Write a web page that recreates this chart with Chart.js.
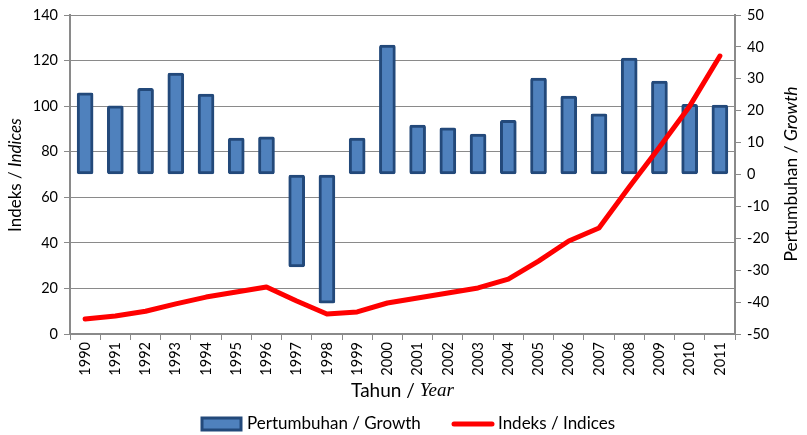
<!DOCTYPE html>
<html><head><meta charset="utf-8">
<script src="https://cdn.jsdelivr.net/npm/chart.js@4"></script>
<style>html,body{margin:0;padding:0;background:#fff;}#wrap{width:807px;height:435px;}</style>
</head><body><div id="wrap"><canvas id="c" width="807" height="435"></canvas></div>
<script>
const years = ['1990','1991','1992','1993','1994','1995','1996','1997','1998','1999','2000','2001','2002','2003','2004','2005','2006','2007','2008','2009','2010','2011'];
const growth = [25.6, 21.5, 27.0, 31.8, 25.2, 11.4, 11.8, -29.0, -40.3, 11.4, 40.6, 15.5, 14.6, 12.7, 17.0, 30.2, 24.6, 19.0, 36.5, 29.3, 22.0, 21.8];
const indices = [6.6, 7.9, 10.0, 13.2, 16.2, 18.4, 20.6, 14.5, 8.8, 9.7, 13.6, 15.8, 18.0, 20.2, 24.1, 32.0, 40.8, 46.5, 64.5, 82.0, 100.0, 122.0];
const leftAxis = {min: 0, max: 140, step: 20};
const rightAxis = {min: -50, max: 50, step: 10};
const growthLabel = 'Pertumbuhan / Growth';
const indexLabel = 'Indeks / Indices';

const FONT = 'Lato, "Open Sans", sans-serif';
const BAR_FILL = '#4F81BD';
const BAR_EDGE = '#23497A';
const GRID = '#8A8A8A';

function drawMixed(ctx, parts, cx, cy, rot) {
  ctx.save();
  ctx.translate(cx, cy);
  if (rot) ctx.rotate(rot);
  ctx.textBaseline = 'middle';
  ctx.textAlign = 'left';
  let total = 0;
  parts.forEach(p => { ctx.font = p.font; p.w = ctx.measureText(p.text).width; total += p.w; });
  let x = -total / 2;
  parts.forEach(p => { ctx.font = p.font; ctx.fillStyle = '#000'; ctx.fillText(p.text, x, 0); x += p.w; });
  ctx.restore();
}

const decor = {
  id: 'decor',
  afterDraw(chart) {
    const ctx = chart.ctx;
    const ca = chart.chartArea;
    drawMixed(ctx, [
      {text: 'Indeks / ', font: '17px ' + FONT},
      {text: 'Indices', font: 'italic 17px ' + FONT}
    ], 16, 175, -Math.PI / 2);
    drawMixed(ctx, [
      {text: 'Pertumbuhan / ', font: '17.5px ' + FONT},
      {text: 'Growth', font: 'italic 17.5px ' + FONT}
    ], 791, 174, -Math.PI / 2);
    drawMixed(ctx, [
      {text: 'Tahun / ', font: '19px ' + FONT},
      {text: 'Year', font: 'italic 19px "Liberation Serif", serif'}
    ], (ca.left + ca.right) / 2, 391, 0);
    // legend
    const ly = 424;
    ctx.save();
    ctx.fillStyle = BAR_FILL; ctx.strokeStyle = BAR_EDGE; ctx.lineWidth = 3;
    ctx.fillRect(202, ly - 6, 39, 12);
    ctx.strokeRect(202, ly - 6, 39, 12);
    ctx.font = '17px ' + FONT; ctx.fillStyle = '#000'; ctx.textBaseline = 'middle'; ctx.textAlign = 'left';
    ctx.fillText(growthLabel, 247, ly);
    ctx.strokeStyle = '#FF0000'; ctx.lineWidth = 5; ctx.lineCap = 'round';
    ctx.beginPath(); ctx.moveTo(454, ly); ctx.lineTo(492, ly); ctx.stroke();
    ctx.fillText(indexLabel, 498, ly);
    ctx.restore();
  }
};

new Chart(document.getElementById('c'), {
  data: {
    labels: years,
    datasets: [
      {type: 'line', label: indexLabel, data: indices, yAxisID: 'y', borderColor: '#FF0000', borderWidth: 5,
       pointRadius: 0, tension: 0, order: 0, borderCapStyle: 'round', borderJoinStyle: 'round'},
      {type: 'bar', label: growthLabel, data: growth, yAxisID: 'y1', backgroundColor: BAR_FILL, borderColor: BAR_EDGE,
       borderWidth: 3, barThickness: 16, borderRadius: 2, borderSkipped: false, order: 1}
    ]
  },
  options: {
    responsive: false,
    animation: false,
    layout: {padding: {top: 15, left: 0, right: 0, bottom: 0}},
    plugins: {legend: {display: false}, tooltip: {enabled: false}},
    scales: {
      x: {
        type: 'category', offset: true,
        grid: {drawOnChartArea: false, tickLength: 6, color: GRID, offset: true},
        border: {color: GRID, width: 2},
        ticks: {minRotation: 90, maxRotation: 90, autoSkip: false, color: '#000', font: {family: FONT, size: 14.5}, padding: 2},
        afterFit(s) { s.height = 101; }
      },
      y: {
        position: 'left', min: leftAxis.min, max: leftAxis.max,
        ticks: {stepSize: leftAxis.step, color: '#000', font: {family: FONT, size: 14.5}, padding: 6},
        grid: {color: GRID, tickLength: 6},
        border: {color: GRID, width: 2},
        afterFit(s) { s.width = 70; }
      },
      y1: {
        position: 'right', min: rightAxis.min, max: rightAxis.max,
        ticks: {stepSize: rightAxis.step, color: '#000', font: {family: FONT, size: 14.5}, padding: 6},
        grid: {drawOnChartArea: false, color: GRID, tickLength: 6},
        border: {color: GRID, width: 2},
        afterFit(s) { s.width = 72; }
      }
    }
  },
  plugins: [decor]
});
</script></body></html>
